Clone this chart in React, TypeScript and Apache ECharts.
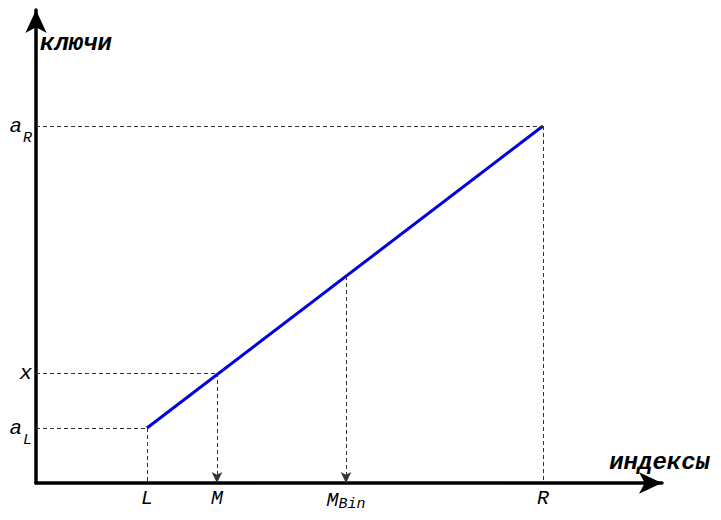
import React, { useEffect, useRef } from "react";
import * as echarts from "echarts";

// index positions (x data) and key values (y data)
const indexNames = ["L", "M", "MBin", "R"];
const indexValues = [111, 181, 310, 507];
const keyNames = ["aL", "x", "aR"];
const keyValues = [55, 110, 357];
// the sorted-array line: from (L, aL) to (R, aR)
const lineX = [111, 507];
const lineY = [55, 357];
// point on the line above M_Bin
const mBinKey = 207;

const FONT = "Liberation Mono";
const DASH = "#333";

export default function App() {
  const ref = useRef<HTMLDivElement>(null);
  useEffect(() => {
    const chart = echarts.init(ref.current!, null, { renderer: "svg" });
    const xLabelMap: Record<number, string> = {
      [indexValues[0]]: "{m|L}",
      [indexValues[1]]: "{m|M}",
      [indexValues[2]]: "{m|M}{s|Bin}",
      [indexValues[3]]: "{m|R}",
    };
    const yLabelMap: Record<number, string> = {
      [keyValues[0]]: "{m|a}{s|L}",
      [keyValues[1]]: "{m|x}",
      [keyValues[2]]: "{m|a}{s|R}",
    };
    const base = { fontFamily: FONT, fontStyle: "italic", color: "#000" };
    const richX = {
      m: { ...base, fontSize: 20 },
      s: { ...base, fontSize: 15, padding: [9, 0, 0, 0] },
    };
    const richY = {
      m: { ...base, fontSize: 21 },
      s: { ...base, fontSize: 15, padding: [25, 0, 0, 1] },
    };
    const dashed = (x1: number, y1: number, x2: number, y2: number, arrow = false) => [
      { coord: [x1, y1], symbol: "none" },
      { coord: [x2, y2], symbol: arrow ? "arrow" : "none", symbolSize: [8, 11] },
    ];
    const [L, M, MB, R] = indexValues;
    const [aL, xk, aR] = keyValues;
    chart.setOption({
      animation: false,
      grid: { left: 36, top: 10, width: 626, height: 473 },
      xAxis: {
        type: "value",
        min: 0,
        max: 626,
        splitLine: { show: false },
        axisTick: { show: false },
        axisLine: { lineStyle: { color: "#000", width: 3.5 }, symbol: ["none", "arrow"], symbolSize: [16, 23] },
        axisLabel: {
          customValues: indexValues,
          formatter: (v: number) => xLabelMap[v] ?? "",
          margin: 5,
          rich: richX,
        },
        name: "индексы",
        nameLocation: "end",
        nameGap: 0,
        nameTextStyle: {
          fontFamily: FONT, fontStyle: "italic", fontWeight: "bold", fontSize: 24, color: "#000",
          align: "right", verticalAlign: "bottom", padding: [0, -48, 9, 0],
        },
      },
      yAxis: {
        type: "value",
        min: 0,
        max: 473,
        splitLine: { show: false },
        axisTick: { show: false },
        axisLine: { lineStyle: { color: "#000", width: 3.5 }, symbol: ["none", "arrow"], symbolSize: [16, 23] },
        axisLabel: {
          customValues: keyValues,
          formatter: (v: number) => yLabelMap[v] ?? "",
          margin: 4,
          rich: richY,
        },
        name: "ключи",
        nameLocation: "end",
        nameGap: 0,
        nameTextStyle: {
          fontFamily: FONT, fontStyle: "italic", fontWeight: "bold", fontSize: 24, color: "#000",
          align: "left", verticalAlign: "top", padding: [21, 0, 0, 4],
        },
      },
      series: [
        {
          type: "line",
          data: lineX.map((x, i) => [x, lineY[i]]),
          symbol: "none",
          lineStyle: { color: "#0000dd", width: 3 },
          z: 3,
          markLine: {
            silent: true,
            symbol: ["none", "none"],
            label: { show: false },
            lineStyle: { color: DASH, width: 1, type: [4, 3] },
            data: [
              dashed(0, aR, R, aR),
              dashed(0, xk, M, xk),
              dashed(0, aL, L, aL),
              dashed(L, aL, L, 0),
              dashed(R, aR, R, 0),
              dashed(M, xk, M, 0, true),
              dashed(MB, mBinKey, MB, 0, true),
            ],
          },
        },
      ],
    });
    return () => chart.dispose();
  }, []);
  return <div ref={ref} style={{ width: 721, height: 520, position: "absolute", left: 0, top: 0 }} />;
}
